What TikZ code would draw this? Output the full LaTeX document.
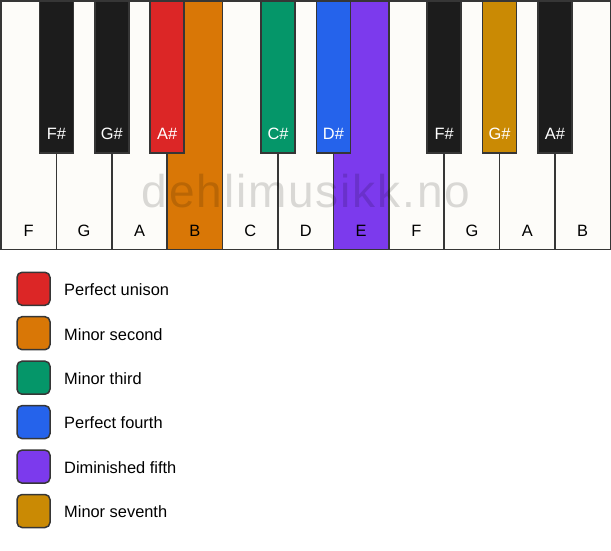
\documentclass[tikz,border=0pt]{standalone}
\usepackage{fontspec}
\setmainfont{Liberation Sans}
\usetikzlibrary{positioning}

\definecolor{keywhite}{HTML}{FDFCF9}
\definecolor{keyblack}{HTML}{1C1C1C}
\definecolor{keyedge}{HTML}{363636}
\definecolor{unison}{HTML}{DC2626}
\definecolor{minsecond}{HTML}{D97706}
\definecolor{minthird}{HTML}{059669}
\definecolor{perfourth}{HTML}{2563EB}
\definecolor{dimfifth}{HTML}{7C3AED}
\definecolor{minseventh}{HTML}{CA8A04}

\tikzset{
  whitekey/.style={rectangle,draw=keyedge,line width=1.5pt,fill=keywhite,
    anchor=north west,minimum width=55.4pt,minimum height=248.5pt,
    inner sep=0pt,outer sep=0pt},
  blackkey/.style={rectangle,draw=keyedge,line width=1.5pt,fill=keyblack,
    anchor=north,minimum width=34pt,minimum height=152pt,
    inner sep=0pt,outer sep=0pt},
  keyname/.style={inner sep=0pt,font=\fontsize{16.4}{19}\selectfont},
  swatch/.style={rectangle,rounded corners=5pt,draw=keyedge,line width=1.5pt,
    minimum size=33pt,inner sep=0pt,outer sep=0pt},
  legendtext/.style={anchor=west,inner sep=0pt,font=\fontsize{16.4}{19}\selectfont}
}

\begin{document}
\begin{tikzpicture}[x=1pt,y=-1pt]
\useasboundingbox (0,0) rectangle (611,550);

% white keys
\node[whitekey] (F1) at (1,1) {};
\node[whitekey] (G1) at (56.4,1) {};
\node[whitekey] (A1) at (111.8,1) {};
\node[whitekey,fill=minsecond] (B1) at (167.2,1) {};
\node[whitekey] (C1) at (222.6,1) {};
\node[whitekey] (D1) at (278,1) {};
\node[whitekey,fill=dimfifth] (E1) at (333.4,1) {};
\node[whitekey] (F2) at (388.8,1) {};
\node[whitekey] (G2) at (444.2,1) {};
\node[whitekey] (A2) at (499.6,1) {};
\node[whitekey] (B2) at (555,1) {};

\node[keyname,above=13pt of F1.south] {F};
\node[keyname,above=13pt of G1.south] {G};
\node[keyname,above=13pt of A1.south] {A};
\node[keyname,above=13pt of B1.south] {B};
\node[keyname,above=13pt of C1.south] {C};
\node[keyname,above=13pt of D1.south] {D};
\node[keyname,above=13pt of E1.south] {E};
\node[keyname,above=13pt of F2.south] {F};
\node[keyname,above=13pt of G2.south] {G};
\node[keyname,above=13pt of A2.south] {A};
\node[keyname,above=13pt of B2.south] {B};

% black keys
\node[blackkey] (Fs1) at (F1.north east) {};
\node[blackkey] (Gs1) at (G1.north east) {};
\node[blackkey,fill=unison] (As1) at (A1.north east) {};
\node[blackkey,fill=minthird] (Cs1) at (C1.north east) {};
\node[blackkey,fill=perfourth] (Ds1) at (D1.north east) {};
\node[blackkey] (Fs2) at (F2.north east) {};
\node[blackkey,fill=minseventh] (Gs2) at (G2.north east) {};
\node[blackkey] (As2) at (A2.north east) {};

\begin{scope}[every node/.style={keyname,text=white}]
    \node[above=13pt of Fs1.south] {F\#};
    \node[above=13pt of Gs1.south] {G\#};
    \node[above=13pt of As1.south] {A\#};
    \node[above=13pt of Cs1.south] {C\#};
    \node[above=13pt of Ds1.south] {D\#};
    \node[above=13pt of Fs2.south] {F\#};
    \node[above=13pt of Gs2.south] {G\#};
    \node[above=13pt of As2.south] {A\#};
\end{scope}

\node[anchor=base,inner sep=0pt,text=black,text opacity=0.14,
      font=\fontsize{46}{50}\selectfont\addfontfeature{LetterSpace=4}]
      (mark) at (306,207.5) {dehlimusikk.no};

% legend
\node[swatch,fill=unison] (L1) at (33.5,288.8) {};
\node[swatch,fill=minsecond] (L2) at (33.5,333.2) {};
\node[swatch,fill=minthird] (L3) at (33.5,377.7) {};
\node[swatch,fill=perfourth] (L4) at (33.5,422.1) {};
\node[swatch,fill=dimfifth] (L5) at (33.5,466.6) {};
\node[swatch,fill=minseventh] (L6) at (33.5,511) {};

\node[legendtext,right=14pt of L1.east,yshift=-1pt] {Perfect unison};
\node[legendtext,right=14pt of L2.east,yshift=-1pt] {Minor second};
\node[legendtext,right=14pt of L3.east,yshift=-1pt] {Minor third};
\node[legendtext,right=14pt of L4.east,yshift=-1pt] {Perfect fourth};
\node[legendtext,right=14pt of L5.east,yshift=-1pt] {Diminished fifth};
\node[legendtext,right=14pt of L6.east,yshift=-1pt] {Minor seventh};
\end{tikzpicture}
\end{document}
